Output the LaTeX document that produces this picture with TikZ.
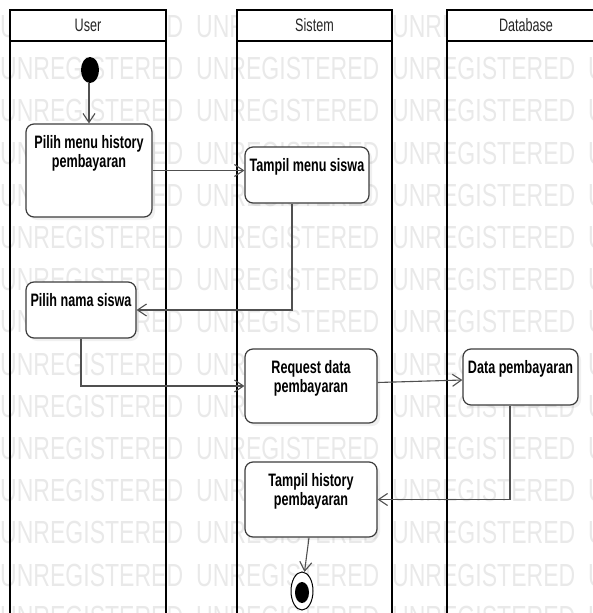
\documentclass[tikz,border=0pt]{standalone}
\usepackage{fontspec}
\setmainfont{Liberation Sans}
\newfontfamily\hdrfont[FakeStretch=0.7]{Liberation Sans}
\newfontfamily\boxfont[FakeStretch=0.7]{Liberation Sans}
\newfontfamily\wmfont[FakeStretch=0.72]{Liberation Sans}
\usetikzlibrary{arrows.meta,shadows,shapes.geometric,calc}
\definecolor{boxgray}{HTML}{3C3C3C}
\definecolor{linegray}{HTML}{505050}
\definecolor{wmgray}{HTML}{E9E9E9}
\tikzset{
  x=1pt, y=1pt,
  lane/.style={draw=black, line width=1.6pt},
  hdr/.style={inner sep=0pt, font=\hdrfont\fontsize{18}{18}\selectfont, text=black!85},
  act/.style={draw=boxgray, line width=1.2pt, rounded corners=8pt, fill=white, inner sep=0pt,
    drop shadow={shadow xshift=3pt, shadow yshift=-3pt, opacity=0.12}},
  boxtxt/.style={anchor=north, inner sep=0pt, align=center,
    font=\boxfont\bfseries\fontsize{18}{19}\selectfont},
  flow/.style={draw=linegray, line width=1.1pt, -{Straight Barb[length=9pt,width=12pt]}},
  wm/.style={inner sep=0pt, anchor=base west, text=wmgray, font=\wmfont\fontsize{32}{32}\selectfont}
}
\begin{document}
\begin{tikzpicture}
\useasboundingbox (0,0) rectangle (593,-613);
\clip (0,0) rectangle (593,-613);
% watermark
\foreach \r in {0,...,14}{
  \foreach \c in {0,...,3}{
    \node[wm] (wm-\r-\c) at ({196*\c}, {-(26+42.2*\r+11.5)}) {UNREGISTERED};
  }
}
% lanes
\draw[lane] (10,-41) rectangle (166,-640);
\draw[lane] (237,-41) rectangle (392,-640);
\draw[lane] (447,-41) rectangle (605,-640);
\draw[lane, fill=white] (10,-10) rectangle (166,-41);
\draw[lane, fill=white] (237,-10) rectangle (392,-41);
\draw[lane, fill=white] (447,-10) rectangle (605,-41);
\node[hdr] (huser) at (88,-25.5) {User};
\node[hdr] (hsis) at (314.5,-25.5) {Sistem};
\node[hdr] (hdb) at (526,-25.5) {Database};
% start / end
\node[ellipse, fill=black, minimum width=18pt, minimum height=26pt, inner sep=0pt] (init) at (90,-70) {};
\node[ellipse, draw=black, line width=1pt, fill=white, minimum width=22pt, minimum height=38pt, inner sep=0pt] (final) at (302,-591) {};
\node[ellipse, fill=black, minimum width=14pt, minimum height=21pt, inner sep=0pt] (finalin) at (302,-592.5) {};
% activities
\node[act, minimum width=126pt, minimum height=93pt] (pmh) at (89,-170.5) {};
\node[boxtxt] (pmht) at ([yshift=-12pt]pmh.north) {Pilih menu history\\pembayaran};
\node[act, minimum width=124pt, minimum height=56pt] (tms) at (307,-175) {};
\node[boxtxt] (tmst) at ([yshift=-12pt]tms.north) {Tampil menu siswa};
\node[act, minimum width=110pt, minimum height=56pt] (pns) at (81,-310) {};
\node[boxtxt] (pnst) at ([yshift=-12pt]pns.north) {Pilih nama siswa};
\node[act, minimum width=132pt, minimum height=74pt] (rdp) at (311,-386) {};
\node[boxtxt] (rdpt) at ([yshift=-12pt]rdp.north) {Request data\\pembayaran};
\node[act, minimum width=115pt, minimum height=56pt] (dp) at (520.5,-377) {};
\node[boxtxt] (dpt) at ([yshift=-12pt]dp.north) {Data pembayaran};
\node[act, minimum width=132pt, minimum height=75pt] (tph) at (311,-499.5) {};
\node[boxtxt] (tpht) at ([yshift=-12pt]tph.north) {Tampil history\\pembayaran};
% flows
\draw[flow] (pmh.north |- init.south) -- (pmh.north);
\draw[flow] (pmh.east) -- (pmh.east -| tms.west);
\draw[flow] ([xshift=-15pt]tms.south) |- (pns.east);
\draw[flow] (pns.south) |- (rdp.west);
\draw[flow] ([yshift=3.5pt]rdp.east) -- ([yshift=-3pt]dp.west);
\draw[flow] ([xshift=-10.5pt]dp.south) |- (tph.east);
\draw[flow] ([xshift=-2pt]tph.south) -- (final);
\end{tikzpicture}
\end{document}
